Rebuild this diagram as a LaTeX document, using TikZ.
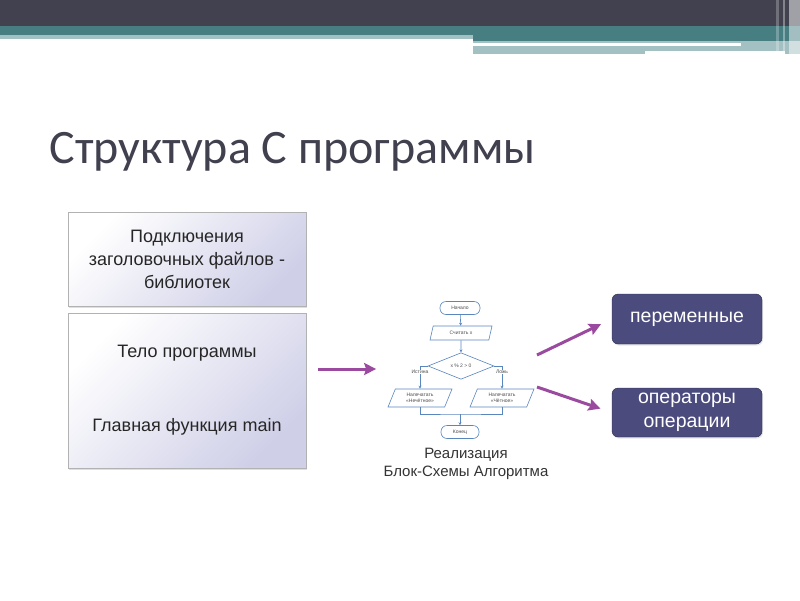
\documentclass[tikz,border=0pt]{standalone}
\usepackage{fontspec}
\setmainfont{Liberation Sans}
\newfontfamily\titlefont{Carlito}
\usepackage{tikz}
\usetikzlibrary{shapes.geometric, arrows.meta, positioning, calc, fit, shadows}

\definecolor{barDark}{HTML}{41414F}
\definecolor{barTeal}{HTML}{467E82}
\definecolor{barLight}{HTML}{A3C0C3}
\definecolor{titleGray}{HTML}{40404E}
\definecolor{boxLav}{HTML}{CFCFE8}
\definecolor{navyBox}{HTML}{4B4B7E}
\definecolor{arrowPurple}{HTML}{9B4B9F}
\definecolor{flowBlue}{HTML}{5A86BE}

\begin{document}
\begin{tikzpicture}[x=1pt, y=-1pt,
    block/.style={rectangle, draw=gray!60, top color=white, bottom color=boxLav, shading angle=45, minimum width=238pt, align=center, text=black!85, font=\fontsize{18}{23}\selectfont, drop shadow={shadow xshift=1pt, shadow yshift=-1.5pt, opacity=0.25}},
    part/.style={rectangle, rounded corners=6pt, draw=navyBox!60!black, fill=navyBox, text=white, minimum width=150pt, align=center, font=\fontsize{19.5}{24}\selectfont, drop shadow={shadow xshift=1pt, shadow yshift=-1.5pt, opacity=0.2}},
    arrow/.style={-{Stealth[length=12pt, width=12pt, inset=2pt]}, line width=3pt, arrowPurple},
    fbox/.style={draw=flowBlue, line width=0.6pt, fill=white, inner sep=0.5pt, align=center, text=black!70, font=\fontsize{5}{6}\selectfont},
    fterm/.style={fbox, rectangle, rounded corners=6pt, minimum width=40pt, minimum height=13pt},
    fdata/.style={fbox, trapezium, trapezium left angle=55, trapezium right angle=125, trapezium stretches body, inner xsep=8pt},
    fline/.style={-{Stealth[length=3pt, width=3pt]}, flowBlue, line width=0.6pt},
    flabel/.style={fill=white, inner sep=0.5pt, text=black!70, font=\fontsize{5}{6}\selectfont}
]
    \useasboundingbox (0,0) rectangle (800,600);

    % Top bar
    \fill[barDark] (0,0) rectangle (800,26);
    \fill[barTeal] (0,26) rectangle (800,35);
    \fill[barLight] (0,35) rectangle (473,39);
    \fill[barTeal] (473,35) rectangle (800,41);
    \fill[barLight] (473,41) rectangle (800,54);
    \fill[white] (473,43) rectangle (741,45.5);
    \fill[white] (645,51) rectangle (785,54);
    \fill[white, opacity=0.25] (776,0) rectangle (779,54);
    \fill[white, opacity=0.35] (783,0) rectangle (785,54);
    \fill[white, opacity=0.5] (789,0) rectangle (800,54);

    \node[anchor=base west, text=titleGray, font=\titlefont\fontsize{48}{54}\selectfont] (title) at (46,163) {Структура С программы};

    % Program parts
    \node[block, minimum height=94pt] (incl) at (187,259) {Подключения\\заголовочных файлов -\\библиотек};
    \node[block, minimum height=155pt] (body) at (187,390.5) {Тело программы\\[51pt]Главная функция main};

    % Flowchart
    \node[fterm] (start) at (460,308) {Начало};
    \node[fdata, minimum height=14pt, minimum width=62pt] (read) at (461,333) {Считать x};
    \node[fbox, diamond, minimum width=66pt, minimum height=21pt] (check) at (461,366) {x \% 2 > 0};
    \node[fdata, minimum height=18pt, minimum width=64pt] (odd) at (420,398) {Напечатать\\«Нечётное»};
    \node[fdata, minimum height=18pt, minimum width=64pt] (even) at (502,398) {Напечатать\\«Чётное»};
    \node[fterm, minimum width=38pt] (stop) at (460,432) {Конец};
    \coordinate (merge) at (460,414);

    \draw[fline] (start) -- (read);
    \draw[fline] (read) -- (check);
    \draw[fline] (check.west) -| (odd.north);
    \draw[fline] (check.east) -| (even.north);
    \draw[flowBlue, line width=0.6pt] (odd.south) |- (merge) -| (even.south);
    \draw[fline] (merge) -- (stop);
    \node[flabel] (yes) at (420,372) {Истина};
    \node[flabel] (no) at (502,372) {Ложь};

    \node[fit=(start)(odd)(even)(stop), inner sep=0pt] (algo) {};
    \node[align=center, text=black!80, font=\fontsize{15}{18}\selectfont] (cap) at (466,464) {Реализация\\Блок-Схемы Алгоритма};

    % Results
    \node[part, minimum height=50pt] (vars) at (687,319) {переменные};
    \node[part, minimum height=49pt] (ops) at (687,412.5) {операторы\\операции};
    \coordinate (fromUp) at (537,355);
    \coordinate (fromDown) at (537,387);

    \draw[arrow, shorten <=12pt] (body.east |- 0,369) -- ([xshift=-15pt]algo.west |- 0,369);
    \draw[arrow, shorten >=12pt] (fromUp) -- (vars.west);
    \draw[arrow, shorten >=12pt] (fromDown) -- (ops.west);
\end{tikzpicture}
\end{document}
